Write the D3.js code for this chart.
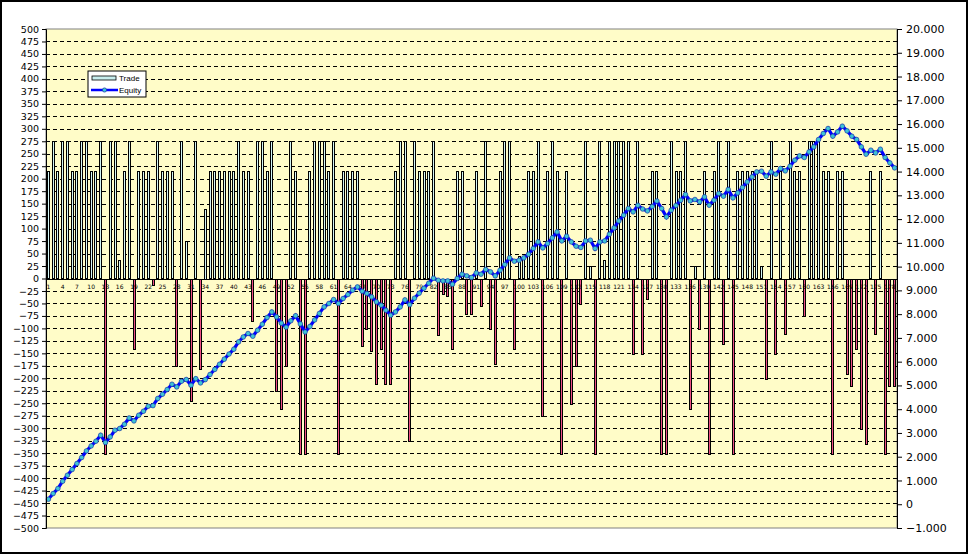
<!DOCTYPE html>
<html>
<head>
<meta charset="utf-8">
<script src="https://cdn.jsdelivr.net/npm/d3@7"></script>
<style>
  body { margin: 0; background: #fff; }
  .left-axis text { font-family: "DejaVu Sans", sans-serif; font-size: 9.5px; }
  .right-axis text { font-family: "DejaVu Sans", sans-serif; font-size: 11px; }
  .cat-label { font-family: "DejaVu Sans", sans-serif; font-size: 6px; }
  .legend text { font-family: "Liberation Sans", Arial, sans-serif; font-size: 8px; }
</style>
</head>
<body>
<div class="chart"></div>
<script>
// trade result per trade number (left axis)
var trades = [
  215, 275, 215, 275, 275, 215, 215, 275, 275, 215,
  215, 275, -350, 275, 275, 37, 215, 275, -140, 215,
  215, 215, -12, 275, 215, 215, 215, -175, 275, 75,
  -245, 275, -180, 140, 215, 215, 215, 215, 215, 215,
  275, 215, 215, -85, 275, 275, 215, 275, -225, -260,
  -175, 275, 215, -350, -350, 215, 275, 275, 275, 215,
  275, -350, 215, 215, 215, 215, -135, -100, -145, -210,
  -140, -210, -210, 215, 275, 275, -325, 275, 215, 215,
  215, 275, -112, -30, -35, -140, 215, 215, -70, -70,
  215, -55, 275, -100, -170, 215, 275, 275, -140, 45,
  45, 215, 215, 275, -275, 215, 275, 215, -350, 215,
  -250, -175, -50, 275, 25, -350, 275, 37, 275, 275,
  275, 275, 275, -150, 275, -150, -40, 215, 215, -350,
  -350, 275, 215, 215, 275, -260, 25, -100, 215, -350,
  215, 275, -130, 275, -350, 215, 215, 215, 215, 215,
  25, -200, 275, -150, 215, -110, 275, 215, 215, -75,
  275, 275, 275, 215, 215, -350, 215, 215, -190, -215,
  -140, -300, -330, 215, -110, 215, -350, -215, -215
];

// running equity after each trade (right axis)
var equity = [
  210, 450, 661, 968, 1220, 1461, 1713, 1966, 2243, 2454,
  2652, 2904, 2597, 2833, 3115, 3186, 3367, 3632, 3506, 3746,
  3914, 4125, 4150, 4449, 4630, 4828, 5051, 4937, 5177, 5250,
  5009, 5285, 5105, 5245, 5460, 5675, 5890, 6105, 6320, 6524,
  6831, 7040, 7185, 7071, 7324, 7576, 7858, 8094, 7883, 7620,
  7450, 7720, 7935, 7590, 7250, 7480, 7755, 8030, 8304, 8447,
  8615, 8447, 8657, 8826, 9007, 9146, 8965, 8868, 8725, 8515,
  8376, 8165, 7955, 8094, 8304, 8600, 8400, 8670, 8881, 9091,
  9302, 9512, 9428, 9399, 9399, 9260, 9500, 9681, 9609, 9542,
  9735, 9681, 9879, 9778, 9609, 9849, 10089, 10367, 10228, 10270,
  10367, 10523, 10762, 11040, 10787, 10973, 11209, 11461, 11082, 11280,
  11040, 10859, 10805, 11082, 11112, 10762, 11040, 11082, 11364, 11630,
  11924, 12164, 12446, 12303, 12585, 12425, 12345, 12528, 12760, 12446,
  12092, 12374, 12572, 12795, 13035, 12766, 12825, 12724, 12934, 12585,
  12795, 13077, 12964, 13246, 12892, 13103, 13330, 13566, 13776, 13987,
  14016, 13806, 13987, 13890, 14130, 14029, 14226, 14479, 14660, 14593,
  14828, 15039, 15350, 15603, 15813, 15489, 15670, 15910, 15712, 15489,
  15350, 15039, 14732, 14900, 14786, 14942, 14593, 14365, 14155
];

var tradeNumbers = d3.range(1, trades.length + 1);
var leftTicks = d3.range(-500, 501, 25);
var rightTicks = d3.range(-1000, 20001, 1000);
var labelEvery = 3;
var seriesNames = ["Trade", "Equity"];

var svgWidth = 968;
var svgHeight = 554;

var plot = { left: 46, right: 897, top: 29, bottom: 528 };

var svg = d3.select(".chart")
  .append("svg")
  .attr("width", svgWidth)
  .attr("height", svgHeight);

// outer frame
svg.append("rect")
  .attr("x", 1).attr("y", 1)
  .attr("width", svgWidth - 2).attr("height", svgHeight - 2)
  .attr("fill", "#fff")
  .attr("stroke", "#000")
  .attr("stroke-width", 2);

// plot area
svg.append("rect")
  .attr("x", plot.left).attr("y", plot.top)
  .attr("width", plot.right - plot.left).attr("height", plot.bottom - plot.top)
  .attr("fill", "#fffcc8")
  .attr("stroke", "#808080")
  .attr("stroke-width", 1);

// scales
var xScale = d3.scaleBand()
  .domain(tradeNumbers)
  .range([plot.left, plot.right])
  .paddingInner(0.4)
  .paddingOuter(0.2);

var yLeft = d3.scaleLinear()
  .domain([-500, 500])
  .range([plot.bottom, plot.top]);

var yRight = d3.scaleLinear()
  .domain([-1000, 20000])
  .range([plot.bottom, plot.top]);

// dashed gridlines
svg.append("g")
  .selectAll("line")
  .data(leftTicks.filter(d => d > -500 && d < 500 && d !== 0))
  .enter()
  .append("line")
  .attr("x1", plot.left)
  .attr("x2", plot.right)
  .attr("y1", d => Math.round(yLeft(d)) + 0.5)
  .attr("y2", d => Math.round(yLeft(d)) + 0.5)
  .attr("stroke", "#000")
  .attr("stroke-dasharray", "4,3");

// trade bars, drawn pixel-snapped like the old chart
svg.append("g")
  .attr("shape-rendering", "crispEdges")
  .selectAll("rect")
  .data(trades)
  .enter()
  .append("rect")
  .attr("x", (d, i) => Math.round(xScale(tradeNumbers[i])) + 0.5)
  .attr("y", d => Math.round(yLeft(Math.max(0, d))) + 0.5)
  .attr("width", 2)
  .attr("height", d => Math.round(Math.abs(yLeft(d) - yLeft(0))))
  .attr("fill", d => d >= 0 ? "#d4f6f6" : "#f04f86")
  .attr("stroke", "#000")
  .attr("stroke-width", 1);

// category axis at zero
svg.append("line")
  .attr("x1", plot.left).attr("x2", plot.right)
  .attr("y1", Math.round(yLeft(0)) + 0.5).attr("y2", Math.round(yLeft(0)) + 0.5)
  .attr("stroke", "#000");

svg.append("g")
  .selectAll("text")
  .data(tradeNumbers.filter(d => (d - 1) % labelEvery === 0))
  .enter()
  .append("text")
  .attr("class", "cat-label")
  .attr("x", d => xScale(d) + xScale.bandwidth() / 2)
  .attr("y", yLeft(0) + 10)
  .attr("text-anchor", "middle")
  .text(d => d);

// equity line
var line = d3.line()
  .x((d, i) => xScale(tradeNumbers[i]) + xScale.bandwidth() / 2)
  .y(d => yRight(d));

svg.append("path")
  .datum(equity)
  .attr("d", line)
  .attr("fill", "none")
  .attr("stroke", "#0000ff")
  .attr("stroke-width", 3.2);

svg.append("g")
  .selectAll("circle")
  .data(equity)
  .enter()
  .append("circle")
  .attr("cx", (d, i) => xScale(tradeNumbers[i]) + xScale.bandwidth() / 2)
  .attr("cy", d => yRight(d))
  .attr("r", 2.3)
  .attr("fill", "#3fc4d4")
  .attr("stroke", "#1838a8")
  .attr("stroke-width", 0.7);

// axes
var leftAxis = d3.axisLeft(yLeft)
  .tickValues(leftTicks)
  .tickSize(4)
  .tickPadding(3);

svg.append("g")
  .attr("class", "left-axis")
  .attr("transform", `translate(${plot.left}, 0)`)
  .call(leftAxis)
  .call(g => g.select(".domain").attr("stroke", "#000"));

var rightAxis = d3.axisRight(yRight)
  .tickValues(rightTicks)
  .tickSize(5)
  .tickPadding(4)
  .tickFormat(d => d === 0 ? "0" : d3.format(",")(d).replace(",", "."));

svg.append("g")
  .attr("class", "right-axis")
  .attr("transform", `translate(${plot.right}, 0)`)
  .call(rightAxis)
  .call(g => g.select(".domain").attr("stroke", "#000"));

// legend
var legend = svg.append("g")
  .attr("class", "legend")
  .attr("transform", "translate(88, 71)");

legend.append("rect")
  .attr("width", 58).attr("height", 26)
  .attr("fill", "#fff")
  .attr("stroke", "#000");

legend.append("rect")
  .attr("x", 4).attr("y", 5)
  .attr("width", 24).attr("height", 4)
  .attr("fill", "#c8eeee")
  .attr("stroke", "#000")
  .attr("stroke-width", 0.8);

legend.append("line")
  .attr("x1", 3).attr("x2", 30)
  .attr("y1", 19).attr("y2", 19)
  .attr("stroke", "#0000ff")
  .attr("stroke-width", 2.5);

legend.append("circle")
  .attr("cx", 16.5).attr("cy", 19)
  .attr("r", 2.1)
  .attr("fill", "#3fc4d4")
  .attr("stroke", "#1838a8")
  .attr("stroke-width", 0.7);

legend.selectAll("text")
  .data(seriesNames)
  .enter()
  .append("text")
  .attr("x", 31)
  .attr("y", (d, i) => 10 + i * 12)
  .text(d => d);
</script>
</body>
</html>
